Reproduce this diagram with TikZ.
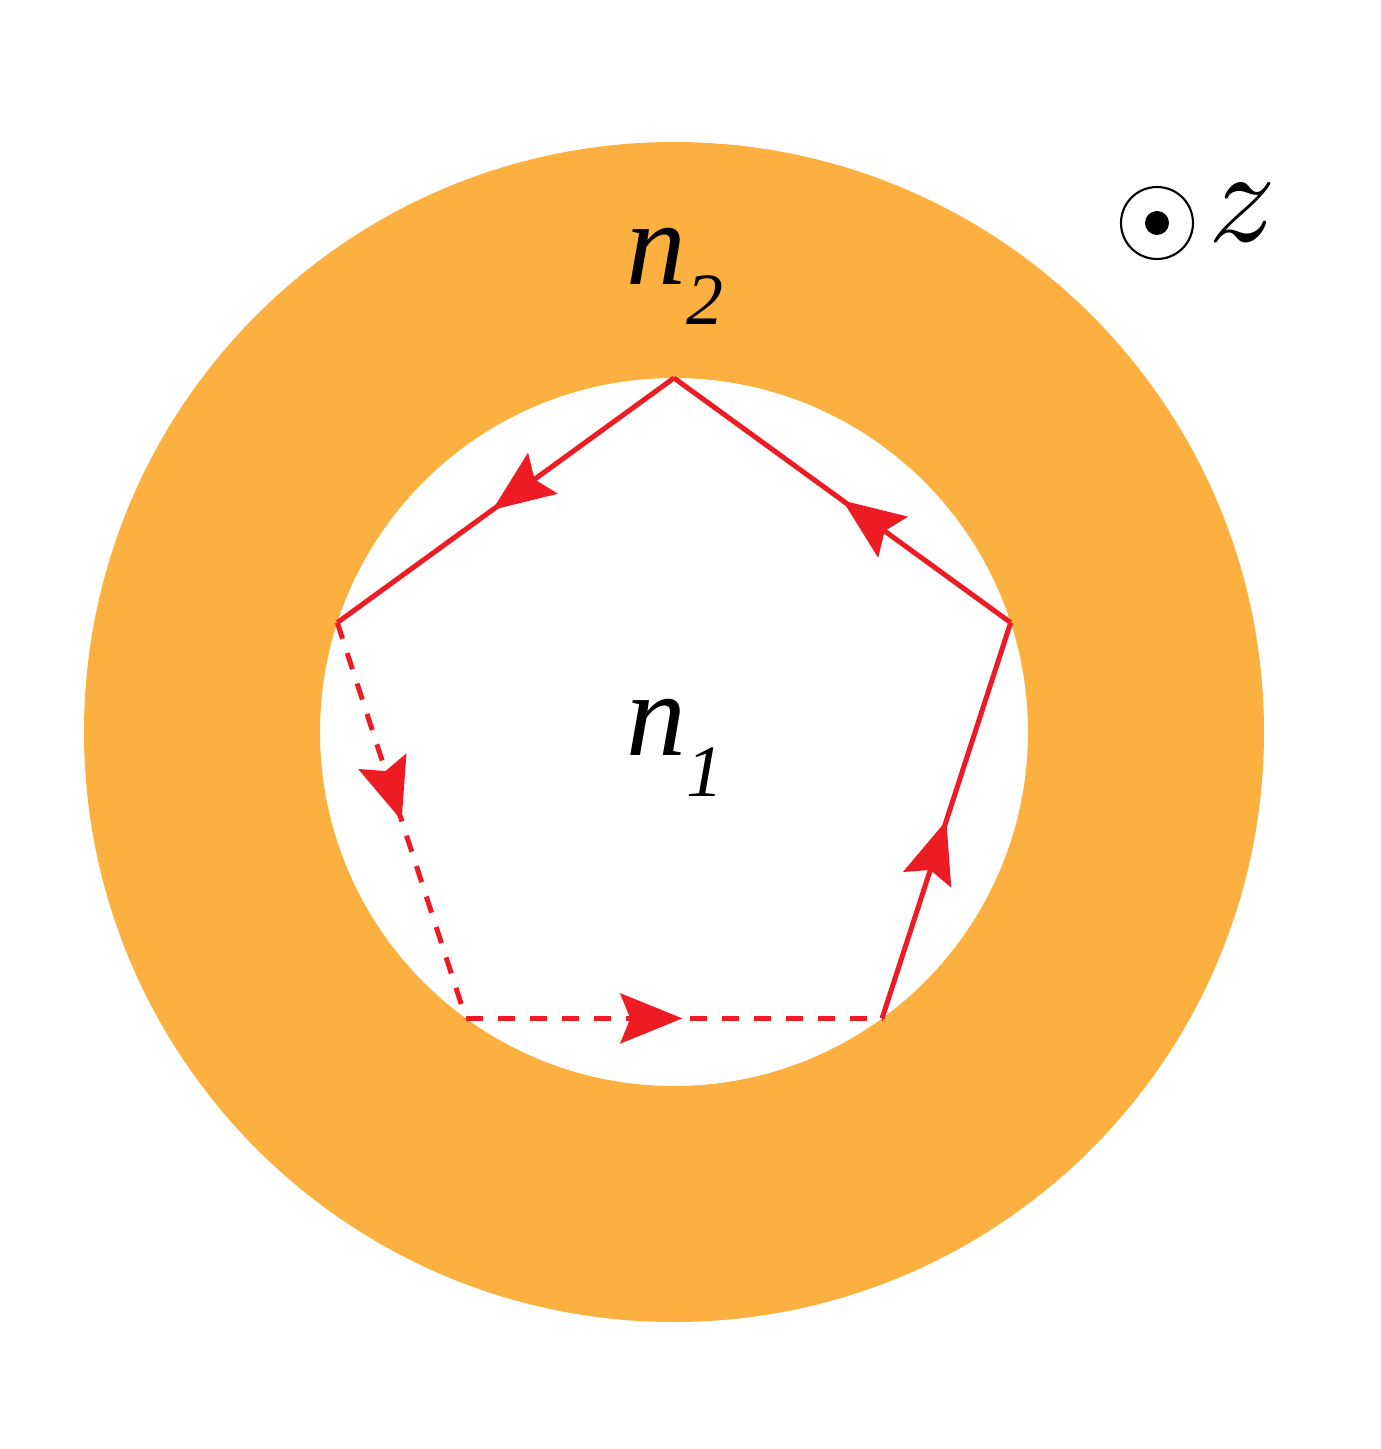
\documentclass[tikz,border=0pt]{standalone}
\usepackage{fontspec}
\setmainfont{Liberation Serif}
\usepackage{tikz}
\usetikzlibrary{arrows.meta}
\usetikzlibrary{decorations.markings}
\definecolor{ringorange}{HTML}{FBB040}
\definecolor{loopred}{HTML}{ED1C24}
\tikzset{loopedge/.style={draw=loopred,line width=0.05cm,postaction={decorate},
  decoration={markings,mark=at position #1 with {\arrow[loopred]{Stealth[length=0.62cm,width=0.5cm,inset=0.1cm]}}}},
  loopedge/.default=0.5}
\tikzstyle{hidden}=[dash pattern=on 0.17cm off 0.15cm]
\tikzstyle{index}=[inner sep=0pt,font=\fontsize{34}{34}\selectfont\itshape]

\begin{document}
\begin{tikzpicture}[line join=miter]
\useasboundingbox (-6.74,-7.17) rectangle (7.07,7.32);
\fill[ringorange,even odd rule] (0,0) circle (5.9) (0,0) circle (3.54);

\coordinate (top) at (90:3.54);
\coordinate (left) at (162:3.54);
\coordinate (botleft) at (234:3.54);
\coordinate (botright) at (306:3.54);
\coordinate (right) at (18:3.54);

\draw[loopedge] (botright) -- (right);
\draw[loopedge] (right) -- (top);
\draw[loopedge=0.54] (top) -- (left);
\draw[loopedge,hidden] (left) -- (botleft);
\draw[loopedge=0.52,hidden] (botleft) -- (botright);

\node[index,anchor=base west] (outer) at (-0.48,4.47) {n\raisebox{-0.4cm}{\fontsize{21}{21}\selectfont 2}};
\node[index,anchor=base west] (inner) at (-0.48,-0.24) {n\raisebox{-0.4cm}{\fontsize{21}{21}\selectfont 1}};

\draw[line width=0.6pt] (4.83,5.09) circle (0.36);
\fill (4.83,5.09) circle (0.12);
\node[inner sep=0pt,scale=3.8] (zaxis) at (5.68,5.19) {$z$};
\end{tikzpicture}
\end{document}
